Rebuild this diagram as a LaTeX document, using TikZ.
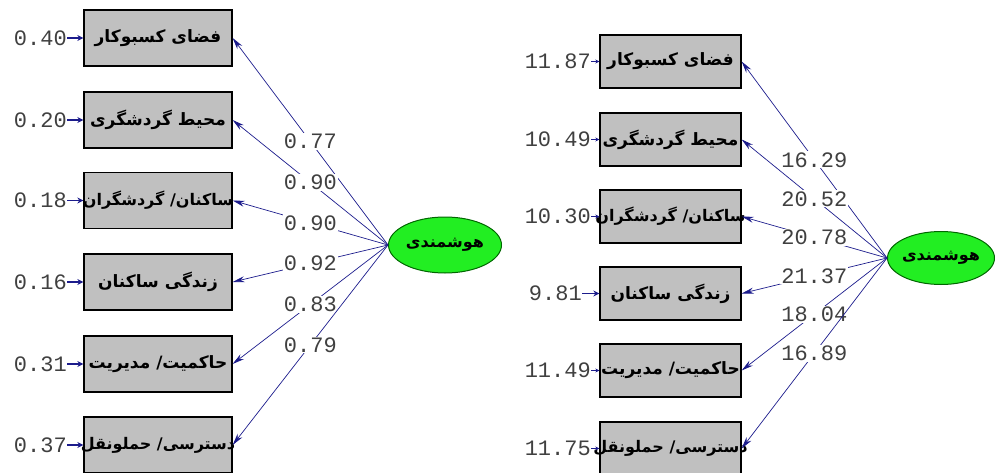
\documentclass[tikz,border=0pt]{standalone}
\usepackage{fontspec}
\usetikzlibrary{arrows.meta,shapes.geometric}
\TeXXeTstate=1
\newfontfamily\fa[Script=Arabic]{DejaVu Sans}
\newfontfamily\num{Liberation Mono}
\definecolor{arrblue}{HTML}{1C1C8C}
\definecolor{boxgray}{HTML}{C0C0C0}
\definecolor{elgreen}{HTML}{22EE22}
\newcommand\fatxt[2]{\makebox[0pt]{\fa\bfseries\fontsize{#1}{#1}\selectfont #2}}
\tikzset{
  ind/.style={draw=black, line width=1.3pt, fill=boxgray, minimum width=148pt, minimum height=56pt, inner sep=0pt},
  indR/.style={ind, minimum width=141pt, minimum height=53pt},
  lat/.style={ellipse, draw=black!60!green, fill=elgreen, line width=1pt, minimum width=113pt, minimum height=56pt, inner sep=0pt},
  latR/.style={lat, minimum width=107pt, minimum height=53pt},
  load/.style={-{Stealth[length=12pt,width=6pt]}, draw=arrblue, line width=0.7pt},
  errarr/.style={-{Stealth[length=6pt,width=6pt]}, draw=arrblue, line width=1.6pt},
  errarrR/.style={-{Stealth[length=4pt,width=4pt]}, draw=arrblue, line width=1pt},
  lbl/.style={font=\num\fontsize{22}{22}\selectfont, text=black!75, fill=white, inner sep=1pt},
  errlbl/.style={font=\num\fontsize{22}{22}\selectfont, text=black!75, anchor=east, inner sep=0pt},
}
\begin{document}
\begin{tikzpicture}[x=1pt,y=-1pt]
\useasboundingbox (0,0) rectangle (995,473);
% ---------- left panel ----------
\node[ind] (b1) at (158,38) {\fatxt{17}{\beginR فضای کسبوکار\endR}};
\node[ind] (b2) at (158,120) {\fatxt{17}{\beginR محیط گردشگری\endR}};
\node[ind] (b3) at (158,200.5) {\fatxt{16}{\beginR ساکنان/ گردشگران\endR}};
\node[ind] (b4) at (158,282) {\fatxt{17}{\beginR زندگی ساکنان\endR}};
\node[ind] (b5) at (158,364) {\fatxt{17}{\beginR حاکمیت/ مدیریت\endR}};
\node[ind] (b6) at (158,445) {\fatxt{16}{\beginR دسترسی/ حملونقل\endR}};
\node[lat] (L) at (445,245) {\fatxt{16}{\beginR هوشمندی\endR}};
\draw[load] (L.west) -- (b1.east) node[lbl,pos=0.5] {0.77};
\draw[load] (L.west) -- (b2.east) node[lbl,pos=0.5] {0.90};
\draw[load] (L.west) -- (b3.east) node[lbl,pos=0.5] {0.90};
\draw[load] (L.west) -- (b4.east) node[lbl,pos=0.5] {0.92};
\draw[load] (L.west) -- (b5.east) node[lbl,pos=0.5] {0.83};
\draw[load] (L.west) -- (b6.east) node[lbl,pos=0.5] {0.79};
\node[errlbl] (e1) at (67,38) {0.40};
\node[errlbl] (e2) at (67,120) {0.20};
\node[errlbl] (e3) at (67,200.5) {0.18};
\node[errlbl] (e4) at (67,282) {0.16};
\node[errlbl] (e5) at (67,364) {0.31};
\node[errlbl] (e6) at (67,445) {0.37};
\foreach \i in {1,...,6} {\draw[errarr] (e\i.east) -- (b\i.west);}
% ---------- right panel ----------
\node[indR] (c1) at (670.5,61.5) {\fatxt{17}{\beginR فضای کسبوکار\endR}};
\node[indR] (c2) at (670.5,139.5) {\fatxt{17}{\beginR محیط گردشگری\endR}};
\node[indR] (c3) at (670.5,216.5) {\fatxt{16}{\beginR ساکنان/ گردشگران\endR}};
\node[indR] (c4) at (670.5,293.5) {\fatxt{17}{\beginR زندگی ساکنان\endR}};
\node[indR] (c5) at (670.5,370.5) {\fatxt{17}{\beginR حاکمیت/ مدیریت\endR}};
\node[indR] (c6) at (670.5,448.5) {\fatxt{16}{\beginR دسترسی/ حملونقل\endR}};
\node[latR] (R) at (941,258) {\fatxt{16}{\beginR هوشمندی\endR}};
\draw[load] (R.west) -- (c1.east) node[lbl,pos=0.5] {16.29};
\draw[load] (R.west) -- (c2.east) node[lbl,pos=0.5] {20.52};
\draw[load] (R.west) -- (c3.east) node[lbl,pos=0.5] {20.78};
\draw[load] (R.west) -- (c4.east) node[lbl,pos=0.5] {21.37};
\draw[load] (R.west) -- (c5.east) node[lbl,pos=0.5] {18.04};
\draw[load] (R.west) -- (c6.east) node[lbl,pos=0.5] {16.89};
\node[errlbl] (f1) at (591,61.5) {11.87};
\node[errlbl] (f2) at (591,139.5) {10.49};
\node[errlbl] (f3) at (591,216.5) {10.30};
\node[errlbl] (f4) at (582,293.5) {9.81};
\node[errlbl] (f5) at (591,370.5) {11.49};
\node[errlbl] (f6) at (591,448.5) {11.75};
\foreach \i in {1,2,3,5,6} {\draw[errarrR] (f\i.east) -- (c\i.west);}
\draw[errarr] (f4.east) -- (c4.west);
\end{tikzpicture}
\end{document}
